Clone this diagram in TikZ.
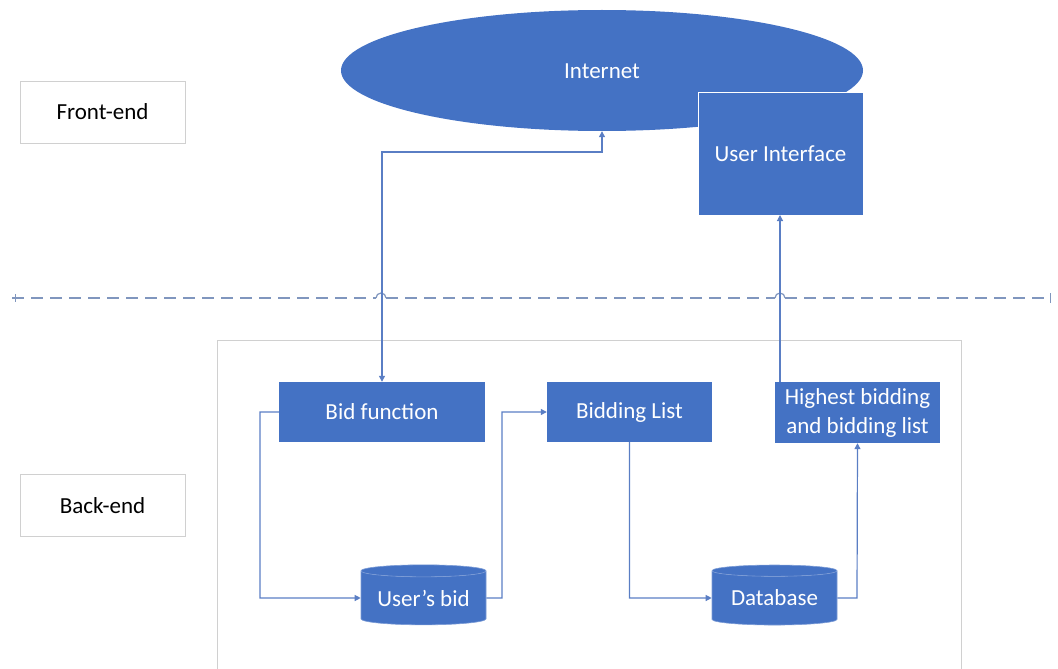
\documentclass[tikz,border=0pt]{standalone}
\usepackage{fontspec}
\setmainfont{Carlito}
\usetikzlibrary{shapes.geometric,arrows.meta}
\definecolor{boxblue}{HTML}{4472C4}
\definecolor{linkblue}{HTML}{5A7EC4}
\definecolor{framegray}{HTML}{D0D0D0}
\definecolor{sepblue}{HTML}{8096BE}
\tikzset{
  >={Triangle[length=6pt,width=6pt]},
  lbl/.style={font=\fontsize{23}{29}\selectfont},
  tier/.style={draw=framegray, line width=0.8pt, fill=white, minimum width=165pt, minimum height=62pt, lbl},
  proc/.style={fill=boxblue, text=white, minimum width=206pt, minimum height=60pt, lbl, align=center, inner sep=0pt},
  store/.style={cylinder, shape border rotate=90, aspect=0.13, draw=boxblue!70!white, line width=0.6pt,
    cylinder uses custom fill, cylinder body fill=boxblue, cylinder end fill=boxblue,
    text=white, minimum width=125pt, minimum height=60pt, lbl, inner sep=0pt},
  link/.style={draw=linkblue, line width=1.2pt, ->},
}
\begin{document}
\begin{tikzpicture}[x=1pt,y=-1pt]
\useasboundingbox (0,0) rectangle (1058,669);

% tier labels
\node[tier] (front) at (102.5,112) {Front-end};
\node[tier] (back) at (102.5,505.5) {Back-end};

% back-end frame
\draw[framegray, line width=0.8pt] (217,669) -- (217,340) -- (961,340) -- (961,669);

% front-end elements
\node[ellipse, fill=boxblue, text=white, minimum width=522pt, minimum height=121pt, lbl, inner sep=0pt] (net) at (602,70.5) {};
\node[lbl, text=white] at (602,71) {Internet};
\node[fill=boxblue, draw=white, line width=0.8pt, text=white, minimum width=165pt, minimum height=123pt, lbl] (ui) at (780.5,153.5) {User Interface};

% back-end elements
\node[proc] (bidfn) at (382,412) {Bid function};
\node[proc, minimum width=165pt] (blist) at (629.5,412) {Bidding List};
\node[proc, minimum width=165pt, minimum height=61pt] (high) at (857.5,412.5) {Highest bidding\\and bidding list};
\node[store] (ubid) at (423.5,598) {User’s bid};
\node[store] (db) at (774.5,598) {Database};

% separator between tiers, hopping over the two vertical links
\draw[sepblue, line width=1.2pt, dash pattern=on 12pt off 7pt] (12,298) -- (376,298);
\draw[sepblue, line width=1.2pt] (376,298) arc[start angle=180, end angle=0, radius=5pt];
\draw[sepblue, line width=1.2pt, dash pattern=on 12pt off 7pt] (386,298) -- (775,298);
\draw[sepblue, line width=1.2pt] (775,298) arc[start angle=180, end angle=0, radius=5pt];
\draw[sepblue, line width=1.2pt, dash pattern=on 12pt off 7pt] (785,298) -- (1046,298);
\draw[sepblue, line width=1pt] (15,294) -- (15,302) (1050,293) -- (1050,303);

% connectors
\coordinate (c1) at (602,152);
\draw[link, <->] (bidfn.north) -- (382,152) -- (c1) -- (net.south);
\draw[link] (bidfn.west) -- (260,412) -- (260,598) -- (ubid.west);
\draw[link] (ubid.east) -- (502,598) -- (502,412) -- (blist.west);
\draw[link] (blist.south) -- (629.5,598) -- (db.west);
\draw[link] (db.east) -- (857,598) -- (high.south);
\draw[link] (780,382) -- (780,215);
\end{tikzpicture}
\end{document}
